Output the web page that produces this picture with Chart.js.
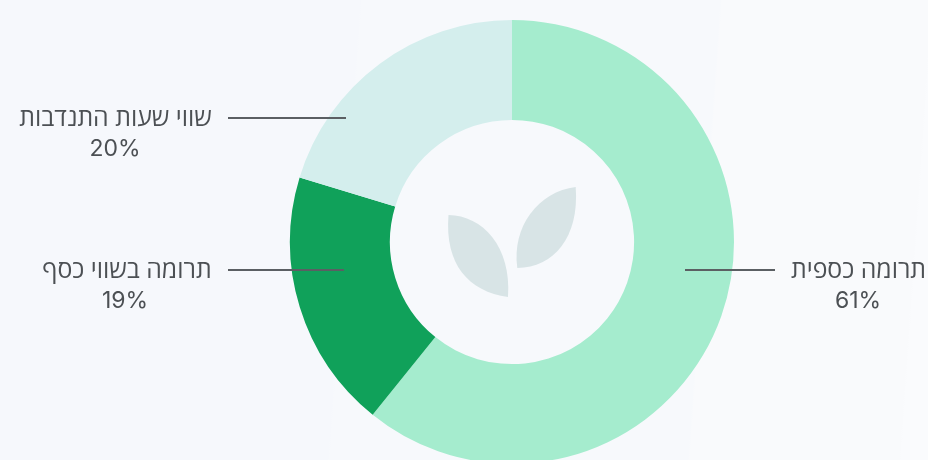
<!DOCTYPE html>
<html lang="he">
<head>
<meta charset="utf-8">
<style>
    html, body { margin: 0; padding: 0; width: 928px; height: 460px; overflow: hidden; }
    body { background: linear-gradient(94deg, #f6f8fc 0 37.5%, #f7f9fc 37.7% 75%, #f9fafc 75.2% 97%, #fafbfd 97.2% 100%); }
    #wrap { position: relative; width: 928px; height: 464px; }
</style>
</head>
<body>
<div id="wrap"><canvas id="donut"></canvas></div>
<script src="https://cdn.jsdelivr.net/npm/chart.js@4"></script>
<script>
const categories = ['תרומה כספית', 'תרומה בשווי כסף', 'שווי שעות התנדבות'];
const shares = [60.8, 18.9, 20.3];
const sliceColors = ['#a5ecce', '#10a15a', '#d4eeed'];

// leader lines and label anchors, relative to the doughnut centre
const callouts = [
    {from: 173, to: 263, y: 28, textX: 346.5, pctX: 346},
    {from: -284, to: -168, y: 28, textX: -385, pctX: -387},
    {from: -284, to: -166, y: -124, textX: -396.5, pctX: -397}
];

const calloutPlugin = {
    id: 'callouts',
    afterDatasetsDraw(chart) {
        const ctx = chart.ctx;
        const arc = chart.getDatasetMeta(0).data[0];
        const cx = arc.x, cy = arc.y;

        ctx.save();
        // leaves in the hole
        ctx.fillStyle = '#d8e4e6';
        ctx.translate(cx, cy);
        let leaf = new Path2D('M-63.5,-27 C-29.5,-26.5 -0.5,4.5 -4,55 C-43.5,49.5 -67.5,22.5 -63.5,-27 Z');
        ctx.fill(leaf);
        leaf = new Path2D('M63.7,-55 C67.5,-4.5 41.5,25.5 5.3,26 C-0.5,-15.5 26.5,-50.5 63.7,-55 Z');
        ctx.fill(leaf);
        ctx.translate(-cx, -cy);

        callouts.forEach((c, i) => {
            ctx.strokeStyle = '#5b5f63';
            ctx.lineWidth = 2;
            ctx.beginPath();
            ctx.moveTo(cx + c.from, cy + c.y);
            ctx.lineTo(cx + c.to, cy + c.y);
            ctx.stroke();

            ctx.fillStyle = '#4c5054';
            ctx.textAlign = 'center';
            ctx.textBaseline = 'middle';
            ctx.font = '24.8px "Open Sans"';
            ctx.direction = 'rtl';
            ctx.fillText(categories[i], cx + c.textX, cy + c.y + 1);
            ctx.direction = 'ltr';
            ctx.font = '23px Inter';
            ctx.fillText(Math.round(shares[i]) + '%', cx + c.pctX, cy + c.y + 31);
        });
        ctx.restore();
    }
};

new Chart(document.getElementById('donut'), {
    type: 'doughnut',
    data: {
        labels: categories,
        datasets: [{data: shares, backgroundColor: sliceColors, borderWidth: 0}]
    },
    options: {
        responsive: true,
        maintainAspectRatio: false,
        animation: false,
        cutout: '55%',
        layout: {padding: {left: 96, top: 20}},
        plugins: {legend: {display: false}, tooltip: {enabled: false}}
    },
    plugins: [calloutPlugin]
});
</script>
</body>
</html>
